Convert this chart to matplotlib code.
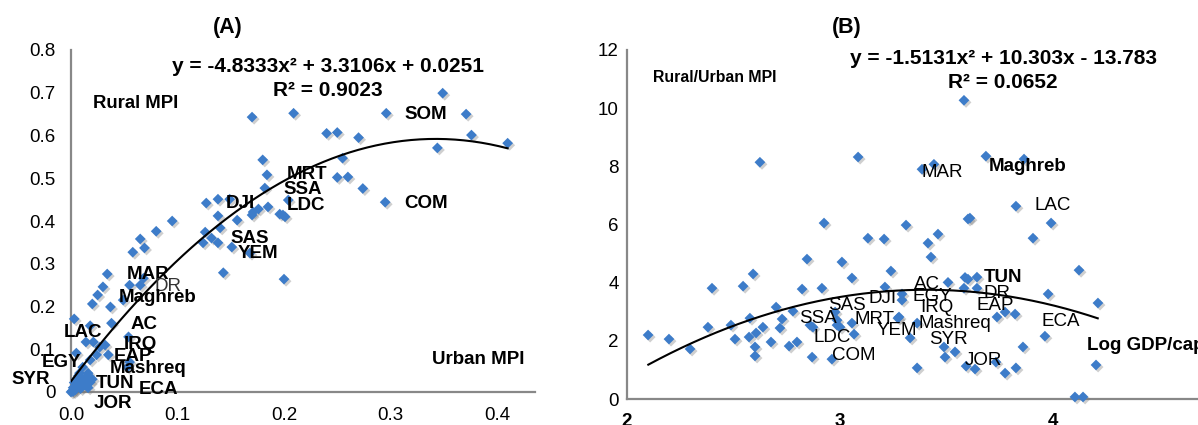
import numpy as np
import matplotlib
matplotlib.use('Agg')
import matplotlib.pyplot as plt
import matplotlib.patheffects as pe

plt.rcParams['font.family'] = ['Liberation Sans', 'DejaVu Sans']

# ---- data, panel A: urban vs rural MPI ----
urban_mpi = [0.349, 0.209, 0.170, 0.296, 0.371, 0.240, 0.250, 0.270, 0.376, 0.410,
             0.344, 0.255, 0.180, 0.184, 0.250, 0.260, 0.182, 0.274, 0.295, 0.204,
             0.199, 0.200,
             0.127, 0.138, 0.149, 0.171, 0.176, 0.185, 0.196, 0.201, 0.138, 0.156,
             0.170, 0.095, 0.080, 0.065, 0.069, 0.058, 0.126, 0.140, 0.132, 0.124,
             0.138, 0.151, 0.168, 0.143,
             0.034, 0.030, 0.025, 0.020, 0.037, 0.055, 0.065, 0.068, 0.049, 0.003,
             0.018, 0.038, 0.014, 0.021, 0.027, 0.032, 0.054, 0.035, 0.024, 0.005,
             0.018, 0.011, 0.016, 0.008, 0.018, 0.053, 0.055,
             0.002, 0.004, 0.006, 0.008, 0.010, 0.012, 0.014, 0.003, 0.001, 0.005,
             0.009, 0.013, 0.016, 0.020, 0.007, 0.000, 0.002, 0.004]
rural_mpi = [0.699, 0.652, 0.643, 0.652, 0.650, 0.605, 0.607, 0.595, 0.601, 0.582,
             0.571, 0.547, 0.543, 0.508, 0.502, 0.503, 0.477, 0.476, 0.444, 0.449,
             0.414, 0.264,
             0.442, 0.451, 0.451, 0.421, 0.428, 0.433, 0.416, 0.410, 0.412, 0.402,
             0.414, 0.400, 0.376, 0.358, 0.337, 0.327, 0.374, 0.384, 0.360, 0.349,
             0.349, 0.339, 0.325, 0.279,
             0.276, 0.246, 0.227, 0.206, 0.199, 0.250, 0.250, 0.266, 0.215, 0.171,
             0.155, 0.161, 0.117, 0.117, 0.105, 0.110, 0.129, 0.087, 0.087, 0.091,
             0.075, 0.058, 0.044, 0.044, 0.023, 0.058, 0.070,
             0.010, 0.005, 0.015, 0.020, 0.012, 0.028, 0.035, 0.022, 0.002, 0.030,
             0.008, 0.018, 0.010, 0.030, 0.038, 0.000, 0.001, 0.012]
trend_a = [-4.8333, 3.3106, 0.0251]
labels_a = ['DJI', 'SAS', 'YEM', 'MAR', 'DR', 'Maghreb', 'AC', 'LAC', 'IRQ', 'EAP',
            'EGY', 'Mashreq', 'SYR', 'TUN', 'ECA', 'JOR', 'MRT', 'SSA', 'LDC',
            'SOM', 'COM']

# ---- data, panel B: log GDP per capita vs rural/urban MPI ----
log_gdp = [3.582, 3.685, 3.864, 3.385, 3.441, 3.826, 3.610, 2.624, 3.085, 2.925,
           2.099, 2.197, 2.296, 2.399, 2.380, 2.488, 2.507, 2.545, 2.592, 2.577,
           2.573, 2.606, 2.601, 2.601, 2.638, 2.676, 2.700, 2.728, 2.718, 2.761,
           2.798, 2.779, 2.822, 2.845, 2.869, 2.873, 2.915, 2.962, 2.977, 2.986,
           3.009, 3.056, 3.056, 3.066, 3.131, 3.207, 3.239, 3.211, 3.272, 3.310,
           3.460, 3.413, 3.427, 3.601, 3.507, 3.587, 3.991, 3.906, 4.122, 3.601,
           3.643, 3.643, 3.582, 3.291, 3.291, 3.977, 4.211, 3.775, 3.822, 3.737,
           3.277, 3.329, 3.962, 3.859, 3.488, 3.540, 3.493, 3.362, 3.592, 3.634,
           3.732, 3.775, 3.826, 4.202, 4.103, 4.141, 2.859, 2.986, 3.000, 3.362]
ratio_mpi = [10.27, 8.35, 8.25, 7.90, 8.07, 6.63, 6.22, 8.14, 8.32, 6.05,
             2.20, 2.06, 1.72, 3.81, 2.47, 2.54, 2.06, 3.88, 4.30, 2.78,
             2.13, 2.27, 1.79, 1.48, 2.47, 1.96, 3.16, 2.75, 2.44, 1.82,
             1.96, 3.02, 3.78, 4.81, 1.44, 2.47, 3.81, 1.37, 2.99, 2.54,
             4.71, 4.16, 2.61, 2.23, 5.53, 5.50, 4.40, 3.85, 2.78, 5.98,
             5.67, 5.36, 4.88, 6.19, 4.01, 4.18, 6.05, 5.53, 4.43, 4.12,
             4.19, 3.81, 3.81, 3.61, 3.40, 3.61, 3.30, 2.99, 2.92, 2.82,
             2.82, 2.10, 2.16, 1.79, 1.79, 1.62, 1.44, 1.07, 1.13, 1.03,
             1.27, 0.89, 1.07, 1.17, 0.07, 0.07, 2.54, 2.71, 2.47, 2.61]
trend_b = [-1.5131, 10.303, -13.783]
labels_b = ['MAR', 'Maghreb', 'LAC', 'TUN', 'DR', 'EAP', 'ECA', 'JOR', 'SYR',
            'Mashreq', 'IRQ', 'EGY', 'AC', 'SAS', 'DJI', 'SSA', 'MRT', 'YEM',
            'LDC', 'COM']

# label placement (layout only)
pos_a = [(0.159, 0.442), (0.168, 0.358), (0.176, 0.323), (0.072, 0.274),
         (0.091, 0.246), (0.081, 0.222), (0.069, 0.159), (0.011, 0.140),
         (0.065, 0.110), (0.058, 0.082), (-0.009, 0.068), (0.072, 0.056),
         (-0.038, 0.030), (0.041, 0.021), (0.082, 0.005), (0.039, -0.028),
         (0.222, 0.508), (0.218, 0.473), (0.221, 0.437), (0.333, 0.648),
         (0.333, 0.442)]
pos_b = [(3.479, 7.80), (3.883, 8.0), (4.0, 6.67), (3.765, 4.19), (3.737, 3.64),
         (3.728, 3.23), (4.038, 2.65), (3.671, 1.34), (3.507, 2.06), (3.540, 2.61),
         (3.455, 3.13), (3.432, 3.51), (3.408, 3.95), (3.033, 3.23), (3.202, 3.47),
         (2.897, 2.78), (3.164, 2.75), (3.268, 2.37), (2.962, 2.13), (3.066, 1.51)]
bold_b = {'Maghreb', 'TUN'}

W, H = 1198, 425
blue = '#3d7cc9'
grey = '#888888'
shadow = [pe.SimplePatchShadow(offset=(1.5, -1.5), shadow_rgbFace='#777777', alpha=0.35), pe.Normal()]


def fx(x):
    return x / W


def fy(y):
    return 1 - y / H


fig = plt.figure(figsize=(W / 100, H / 100), dpi=100)

# ---------------- panel A ----------------
axA = fig.add_axes([fx(71), fy(392), (535 - 71) / W, (392 - 50) / H])
axA.scatter(urban_mpi, rural_mpi, marker='D', s=30, color=blue, lw=0,
            zorder=3, path_effects=shadow, clip_on=False)
xa = np.linspace(0, 0.41, 200)
axA.plot(xa, np.polyval(trend_a, xa), color='black', lw=1.5, zorder=4)
for lab, (x, y) in zip(labels_a, pos_a):
    axA.text(x, y, lab, ha='center', va='center', fontsize=13.5,
             fontweight='normal' if lab == 'DR' else 'bold', zorder=5,
             color='#333333' if lab == 'DR' else 'black')
axA.set_xlim(0, (535 - 71) / 1065)
axA.set_ylim(0, 0.8)
axA.set_xticks([0, 0.1, 0.2, 0.3, 0.4])
axA.set_xticklabels(['0.0', '0.1', '0.2', '0.3', '0.4'])
axA.set_yticks(np.arange(0, 0.81, 0.1))
axA.set_yticklabels(['0'] + ['%.1f' % v for v in np.arange(0.1, 0.81, 0.1)])

# ---------------- panel B ----------------
axB = fig.add_axes([fx(627), fy(399), 639 / W, (399 - 50) / H])
axB.scatter(log_gdp, ratio_mpi, marker='D', s=30, color=blue, lw=0,
            zorder=3, path_effects=shadow, clip_on=False)
xb = np.linspace(2.1, 4.21, 200)
axB.plot(xb, np.polyval(trend_b, xb), color='black', lw=1.5, zorder=4)
for lab, (x, y) in zip(labels_b, pos_b):
    axB.text(x, y, lab, ha='center', va='center', fontsize=13.5,
             fontweight='bold' if lab in bold_b else 'normal', zorder=5)
axB.set_xlim(2, 5)
axB.set_ylim(0, 12)
axB.set_xticks([2, 3, 4, 5])
axB.set_yticks(np.arange(0, 13, 2))
for lbl in axB.get_xticklabels():
    lbl.set_fontweight('bold')

for ax, padx, pady in ((axA, 11, 11), (axB, 10, 6)):
    for s in ('top', 'right'):
        ax.spines[s].set_visible(False)
    for s in ('left', 'bottom'):
        ax.spines[s].set_color(grey)
        ax.spines[s].set_linewidth(1.6)
    ax.tick_params(axis='x', length=0, pad=padx, labelsize=13.5)
    ax.tick_params(axis='y', length=0, pad=pady, labelsize=13.5)
    ax.set_facecolor('none')

# titles, equations, axis captions
fig.text(fx(228), fy(27), '(A)', ha='center', va='center', fontsize=15.5, fontweight='bold')
fig.text(fx(847), fy(27), '(B)', ha='center', va='center', fontsize=15.5, fontweight='bold')
fig.text(fx(328), fy(67), 'y = -4.8333x² + 3.3106x + 0.0251', ha='center', va='center',
         fontsize=15, fontweight='bold')
fig.text(fx(328), fy(90), 'R² = 0.9023', ha='center', va='center', fontsize=15, fontweight='bold')
fig.text(fx(1003), fy(58), 'y = -1.5131x² + 10.303x - 13.783', ha='center', va='center',
         fontsize=15, fontweight='bold')
fig.text(fx(1003), fy(82), 'R² = 0.0652', ha='center', va='center', fontsize=15, fontweight='bold')
fig.text(fx(93), fy(104), 'Rural MPI', ha='left', va='center', fontsize=13.3, fontweight='bold')
fig.text(fx(432), fy(360), 'Urban MPI', ha='left', va='center', fontsize=13.5, fontweight='bold')
fig.text(fx(653), fy(78), 'Rural/Urban MPI', ha='left', va='center', fontsize=11.4, fontweight='bold')
fig.text(fx(1087), fy(345), 'Log GDP/capita', ha='left', va='center', fontsize=13.5, fontweight='bold')

fig.savefig('out.png', dpi=100)
